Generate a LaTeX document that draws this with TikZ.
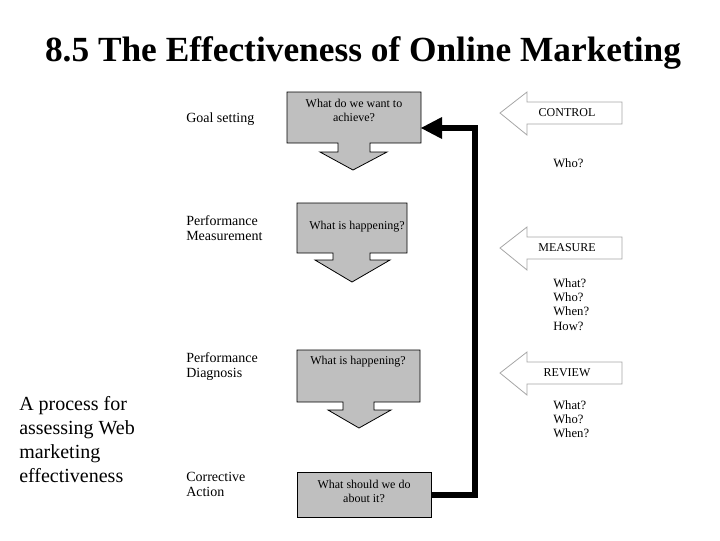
\documentclass[tikz,border=0pt]{standalone}
\usepackage{fontspec}
\setmainfont{Liberation Serif}
\begin{document}
\begin{tikzpicture}[x=0.75pt,y=-0.75pt,
 gbox/.style={fill=gray!50,draw=black,line width=0.6pt},
 wbox/.style={fill=white,draw=gray!70,line width=0.6pt},
 lbl/.style={anchor=north west,align=left,font=\fontsize{10.5}{11.5}\selectfont,inner sep=0pt},
 qs/.style={anchor=north west,align=left,font=\fontsize{9.5}{10.8}\selectfont,inner sep=0pt},
 btxt/.style={align=center,font=\fontsize{9}{10.5}\selectfont,inner sep=0pt}]
\useasboundingbox (0,0) rectangle (720,540);
\node[font=\bfseries\fontsize{26.5}{30}\selectfont] (title) at (363,53) {8.5 The Effectiveness of Online Marketing};
% gray callouts
\draw[gbox] (287,92)--(421,92)--(421,143)--(370,143)--(370,152)--(387,152)--(353,170)--(320,152)--(338,152)--(338,143)--(287,143)--cycle;
\draw[gbox] (297,203)--(407,203)--(407,253)--(370,253)--(370,260)--(390,260)--(352,282)--(315,260)--(333,260)--(333,253)--(297,253)--cycle;
\draw[gbox] (297,350)--(420,350)--(420,402)--(374,402)--(374,410)--(391,410)--(359,428)--(328,410)--(343,410)--(343,402)--(297,402)--cycle;
\node[gbox,minimum width=134*0.75pt,minimum height=45*0.75pt,anchor=north west,inner sep=0pt] (b4) at (297,472) {};
\node[btxt] (t1) at (354,110) {What do we want to\\achieve?};
\node[btxt] (t2) at (357,227) {What is happening?};
\node[btxt] (t3) at (358,362) {What is happening?};
\node[btxt] (t4) at (364,491) {What should we do\\about it?};
% feedback line
\coordinate (c1) at (475,495);
\draw[line width=4.5pt] (b4.east |- c1) -- (c1) -- (475,128) -- (440,128);
\fill (421,128) -- (442,117) -- (442,139) -- cycle;
% white arrows
\foreach \y/\t/\n in {113/CONTROL/ctl,248/MEASURE/mea,373/REVIEW/rev}{
 \draw[wbox] (500,\y)--(527,\y-21)--(527,\y-11)--(622,\y-11)--(622,\y+11)--(527,\y+11)--(527,\y+22)--cycle;
 \node[font=\fontsize{9}{10}\selectfont] (\n) at (567,\y) {\t};
}
% left labels
\node[lbl] (l1) at (186,113) {Goal setting};
\node[lbl] (l2) at (186,215) {Performance\\Measurement};
\node[lbl] (l3) at (186,352) {Performance\\Diagnosis};
\node[lbl] (l4) at (186,472) {Corrective\\Action};
% questions
\node[qs] (q1) at (553,158) {Who?};
\node[qs] (q2) at (553,278) {What?\\Who?\\When?\\How?};
\node[qs] (q3) at (553,400) {What?\\Who?\\When?};
\node[anchor=north west,align=left,font=\fontsize{15}{18}\selectfont,inner sep=0pt] (side) at (19,396) {A process for\\assessing Web\\marketing\\effectiveness};
\end{tikzpicture}
\end{document}
